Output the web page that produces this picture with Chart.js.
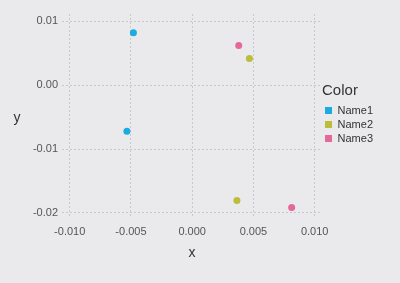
<!DOCTYPE html>
<html>
<head>
<meta charset="utf-8">
<script src="https://cdn.jsdelivr.net/npm/chart.js@4"></script>
<style>
  html, body { margin: 0; padding: 0; background: #eaeaed; }
  #wrap { width: 400px; height: 283px; position: relative; }
</style>
</head>
<body>
<div id="wrap"><canvas id="chart" width="400" height="283"></canvas></div>
<script>
const seriesNames = ["Name1", "Name2", "Name3"];
const seriesColors = ["#18ace0", "#bdbd3c", "#e5689b"];
const xName1 = [-0.0048, -0.00533];
const yName1 = [0.0082, -0.00722];
const xName2 = [0.00467, 0.00365];
const yName2 = [0.00417, -0.01807];
const xName3 = [0.0038, 0.00812];
const yName3 = [0.0062, -0.01916];

const xs = [xName1, xName2, xName3];
const ys = [yName1, yName2, yName3];

const datasets = seriesNames.map((name, i) => ({
  label: name,
  data: xs[i].map((x, j) => ({ x: x, y: ys[i][j] })),
  backgroundColor: seriesColors[i],
  borderColor: seriesColors[i],
  pointRadius: 3.5,
  pointBorderWidth: 0,
  pointStyle: "circle",
}));

// upright "y" title, like the reference
const uprightY = {
  id: "uprightY",
  afterDraw(chart) {
    const ctx = chart.ctx;
    const area = chart.chartArea;
    ctx.save();
    ctx.font = "14px 'Liberation Sans', Arial, sans-serif";
    ctx.fillStyle = "#333333";
    ctx.textAlign = "center";
    ctx.textBaseline = "middle";
    ctx.fillText("y", 17, (area.top + area.bottom) / 2 + 2);
    ctx.restore();
  },
};

const gridStyle = {
  color: "#c9c9cc",
  lineWidth: 1,
  drawTicks: false,
};

new Chart(document.getElementById("chart").getContext("2d"), {
  type: "scatter",
  data: { datasets: datasets },
  options: {
    responsive: false,
    animation: false,
    layout: { padding: { top: 14, right: 17, left: 0, bottom: 0 } },
    scales: {
      x: {
        type: "linear",
        min: -0.01063,
        max: 0.0106,
        grid: gridStyle,
        border: { display: false, dash: [2, 2] },
        ticks: {
          stepSize: 0.005,
          includeBounds: false,
          padding: 7,
          color: "#555555",
          font: { size: 11, family: "'Liberation Sans', Arial, sans-serif" },
          callback: (v) => Number(v).toFixed(3),
        },
        title: {
          display: true,
          text: "x",
          color: "#333333",
          padding: { top: 4, bottom: 21 },
          font: { size: 14, family: "'Liberation Sans', Arial, sans-serif" },
        },
        afterFit: (scale) => { scale.height = 65; },
      },
      y: {
        type: "linear",
        min: -0.0208,
        max: 0.01114,
        grid: gridStyle,
        border: { display: false, dash: [2, 2] },
        ticks: {
          stepSize: 0.01,
          includeBounds: false,
          padding: 4,
          color: "#555555",
          font: { size: 11, family: "'Liberation Sans', Arial, sans-serif" },
          callback: (v) => Number(v).toFixed(2),
        },
        title: { display: false },
        afterFit: (scale) => { scale.width = 62; },
      },
    },
    plugins: {
      tooltip: { enabled: false },
      legend: {
        position: "right",
        align: "start",
        title: {
          display: true,
          text: "Color",
          position: "start",
          color: "#333333",
          padding: { top: 69, bottom: 1 },
          font: { size: 15, family: "'Liberation Sans', Arial, sans-serif" },
        },
        labels: {
          usePointStyle: true,
          pointStyle: "rect",
          boxWidth: 7,
          boxHeight: 7,
          padding: 3,
          color: "#333333",
          font: { size: 11, family: "'Liberation Sans', Arial, sans-serif" },
        },
      },
    },
  },
  plugins: [uprightY],
});
</script>
</body>
</html>
